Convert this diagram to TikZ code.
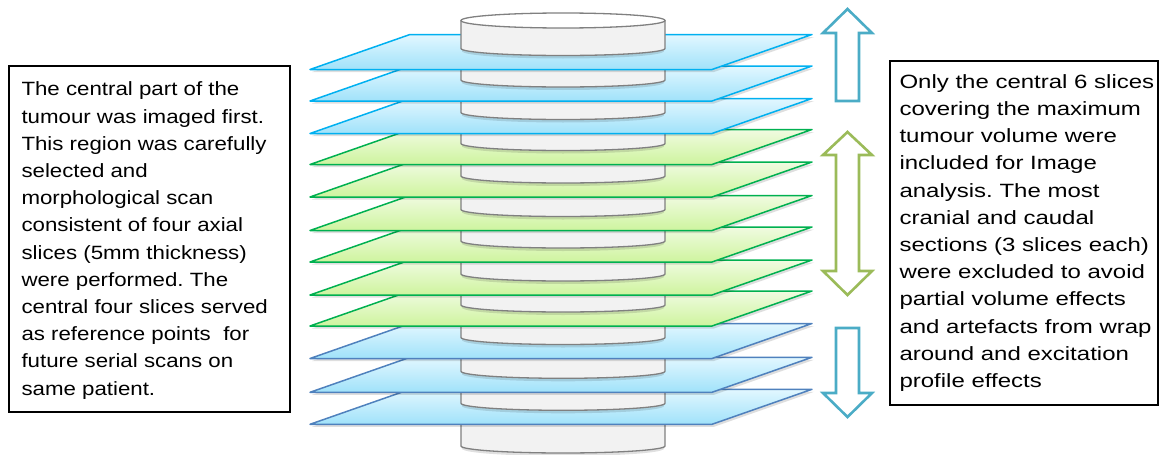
\documentclass[tikz,border=0pt]{standalone}
\usepackage{fontspec}
\setmainfont{Liberation Sans}
\newfontfamily\leftnotefont{Liberation Sans}[FakeStretch=1.16]
\newfontfamily\rightnotefont{Liberation Sans}[FakeStretch=1.25]
\frenchspacing

\definecolor{edgecyan}{RGB}{0,176,240}
\definecolor{edgegreen}{RGB}{0,176,80}
\definecolor{edgesteel}{RGB}{79,129,189}
\definecolor{bluetop}{RGB}{226,247,255}
\definecolor{bluebot}{RGB}{160,226,250}
\definecolor{greentop}{RGB}{240,251,225}
\definecolor{greenbot}{RGB}{206,244,158}
\definecolor{drumfill}{RGB}{242,242,242}
\definecolor{drumedge}{RGB}{128,128,128}
\definecolor{arrowteal}{RGB}{75,172,198}
\definecolor{arrowgreen}{RGB}{155,187,89}

% one slice plane: bottom edge y, edge colour, top and bottom fill colours
\newcommand\slicelayer[4]{%
  \fill[black,opacity=0.13] (312,#1+2.5) -- (714,#1+2.5) -- (814,#1-32.5) -- (412,#1-32.5) -- cycle;
  \path[slab,draw=#2,top color=#3,bottom color=#4]
    (310,#1) -- (712,#1) -- (812,#1-35) -- (410,#1-35) -- cycle;
}
% one piece of the tumour cylinder between two slices: top y, bottom y
\newcommand\drumpiece[2]{%
  \draw[black,opacity=0.12,line width=3pt] (463,#2+1.5) arc[start angle=180,end angle=0,x radius=100,y radius=7];
  \fill[drumfill] (461,#1) -- (461,#2) arc[start angle=180,end angle=0,x radius=102,y radius=7] -- (665,#1) -- cycle;
  \draw[drumline] (461,#1) -- (461,#2) arc[start angle=180,end angle=0,x radius=102,y radius=7] -- (665,#1);
}

\begin{document}
\begin{tikzpicture}[x=1pt,y=-1pt,
  slab/.style={line width=1.5pt,line join=round},
  drumline/.style={draw=drumedge,line width=1.3pt},
  blockarrow/.style={fill=white,line width=2.6pt,line join=miter},
  notebox/.style={draw=black,line width=1.4pt,rectangle,inner sep=0pt},
  notetext/.style={anchor=west,align=left,inner sep=0pt}]
\useasboundingbox (0,0) rectangle (1160,455);

% stack of slices with the cylinder threaded through, drawn from the bottom up
\drumpiece{403.3}{446}
\foreach \yb/\yt/\ec/\ft/\fb in {
  424.3/371.3/edgesteel/bluetop/bluebot,
  392.3/337.5/edgesteel/bluetop/bluebot,
  358.5/305/edgesteel/bluetop/bluebot,
  326/274/edgegreen/greentop/greenbot,
  295/241/edgegreen/greentop/greenbot,
  262/209.5/edgegreen/greentop/greenbot,
  230.5/176/edgegreen/greentop/greenbot,
  197/143.5/edgegreen/greentop/greenbot,
  164.5/112.5/edgegreen/greentop/greenbot,
  133.5/80/edgecyan/bluetop/bluebot,
  101/48.5/edgecyan/bluetop/bluebot}{
  \slicelayer{\yb}{\ec}{\ft}{\fb}
  \drumpiece{\yt}{\yb-21}
}
\slicelayer{69.5}{edgecyan}{bluetop}{bluebot}

% top piece of the cylinder with its lid
\draw[black,opacity=0.12,line width=3pt] (463,50) arc[start angle=180,end angle=0,x radius=100,y radius=7];
\fill[drumfill] (461,20.5) -- (461,48.5) arc[start angle=180,end angle=0,x radius=102,y radius=7]
  -- (665,20.5) arc[start angle=0,end angle=180,x radius=102,y radius=7.5] -- cycle;
\draw[drumline] (461,20.5) -- (461,48.5) arc[start angle=180,end angle=0,x radius=102,y radius=7] -- (665,20.5);
\draw[drumline] (563,20.5) ellipse[x radius=102,y radius=7.5];

% block arrows
\draw[blockarrow,draw=arrowteal] (847.5,9) -- (872,33) -- (859,33) -- (859,101) -- (836,101)
  -- (836,33) -- (823,33) -- cycle;
\draw[blockarrow,draw=arrowgreen] (847.5,132) -- (872,155) -- (859,155) -- (859,271) -- (872,271)
  -- (847.5,295) -- (823,271) -- (836,271) -- (836,155) -- (823,155) -- cycle;
\draw[blockarrow,draw=arrowteal] (836,328) -- (859,328) -- (859,393) -- (872,393) -- (847.5,417)
  -- (823,393) -- (836,393) -- cycle;

% explanatory notes
\node[notebox,minimum width=281pt,minimum height=346pt] (leftbox) at (149.5,239) {};
\node[notetext,font=\leftnotefont\fontsize{19.2pt}{27.2pt}\selectfont] (leftnote)
  at ([xshift=13pt,yshift=-1.5pt]leftbox.west) {The central part of the\\
tumour was imaged first.\\
This region was carefully\\
selected and\\
morphological scan\\
consistent of four axial\\
slices (5mm thickness)\\
were performed. The\\
central four slices served\\
as reference points\ \ for\\
future serial scans on\\
same patient.};

\node[notebox,minimum width=268pt,minimum height=344pt] (rightbox) at (1024,233) {};
\node[notetext,font=\rightnotefont\fontsize{19.2pt}{27.2pt}\selectfont] (rightnote)
  at ([xshift=10pt]rightbox.west) {Only the central 6 slices\\
covering the maximum\\
tumour volume were\\
included for Image\\
analysis. The most\\
cranial and caudal\\
sections (3 slices each)\\
were excluded to avoid\\
partial volume effects\\
and artefacts from wrap\\
around and excitation\\
profile effects};
\end{tikzpicture}
\end{document}
